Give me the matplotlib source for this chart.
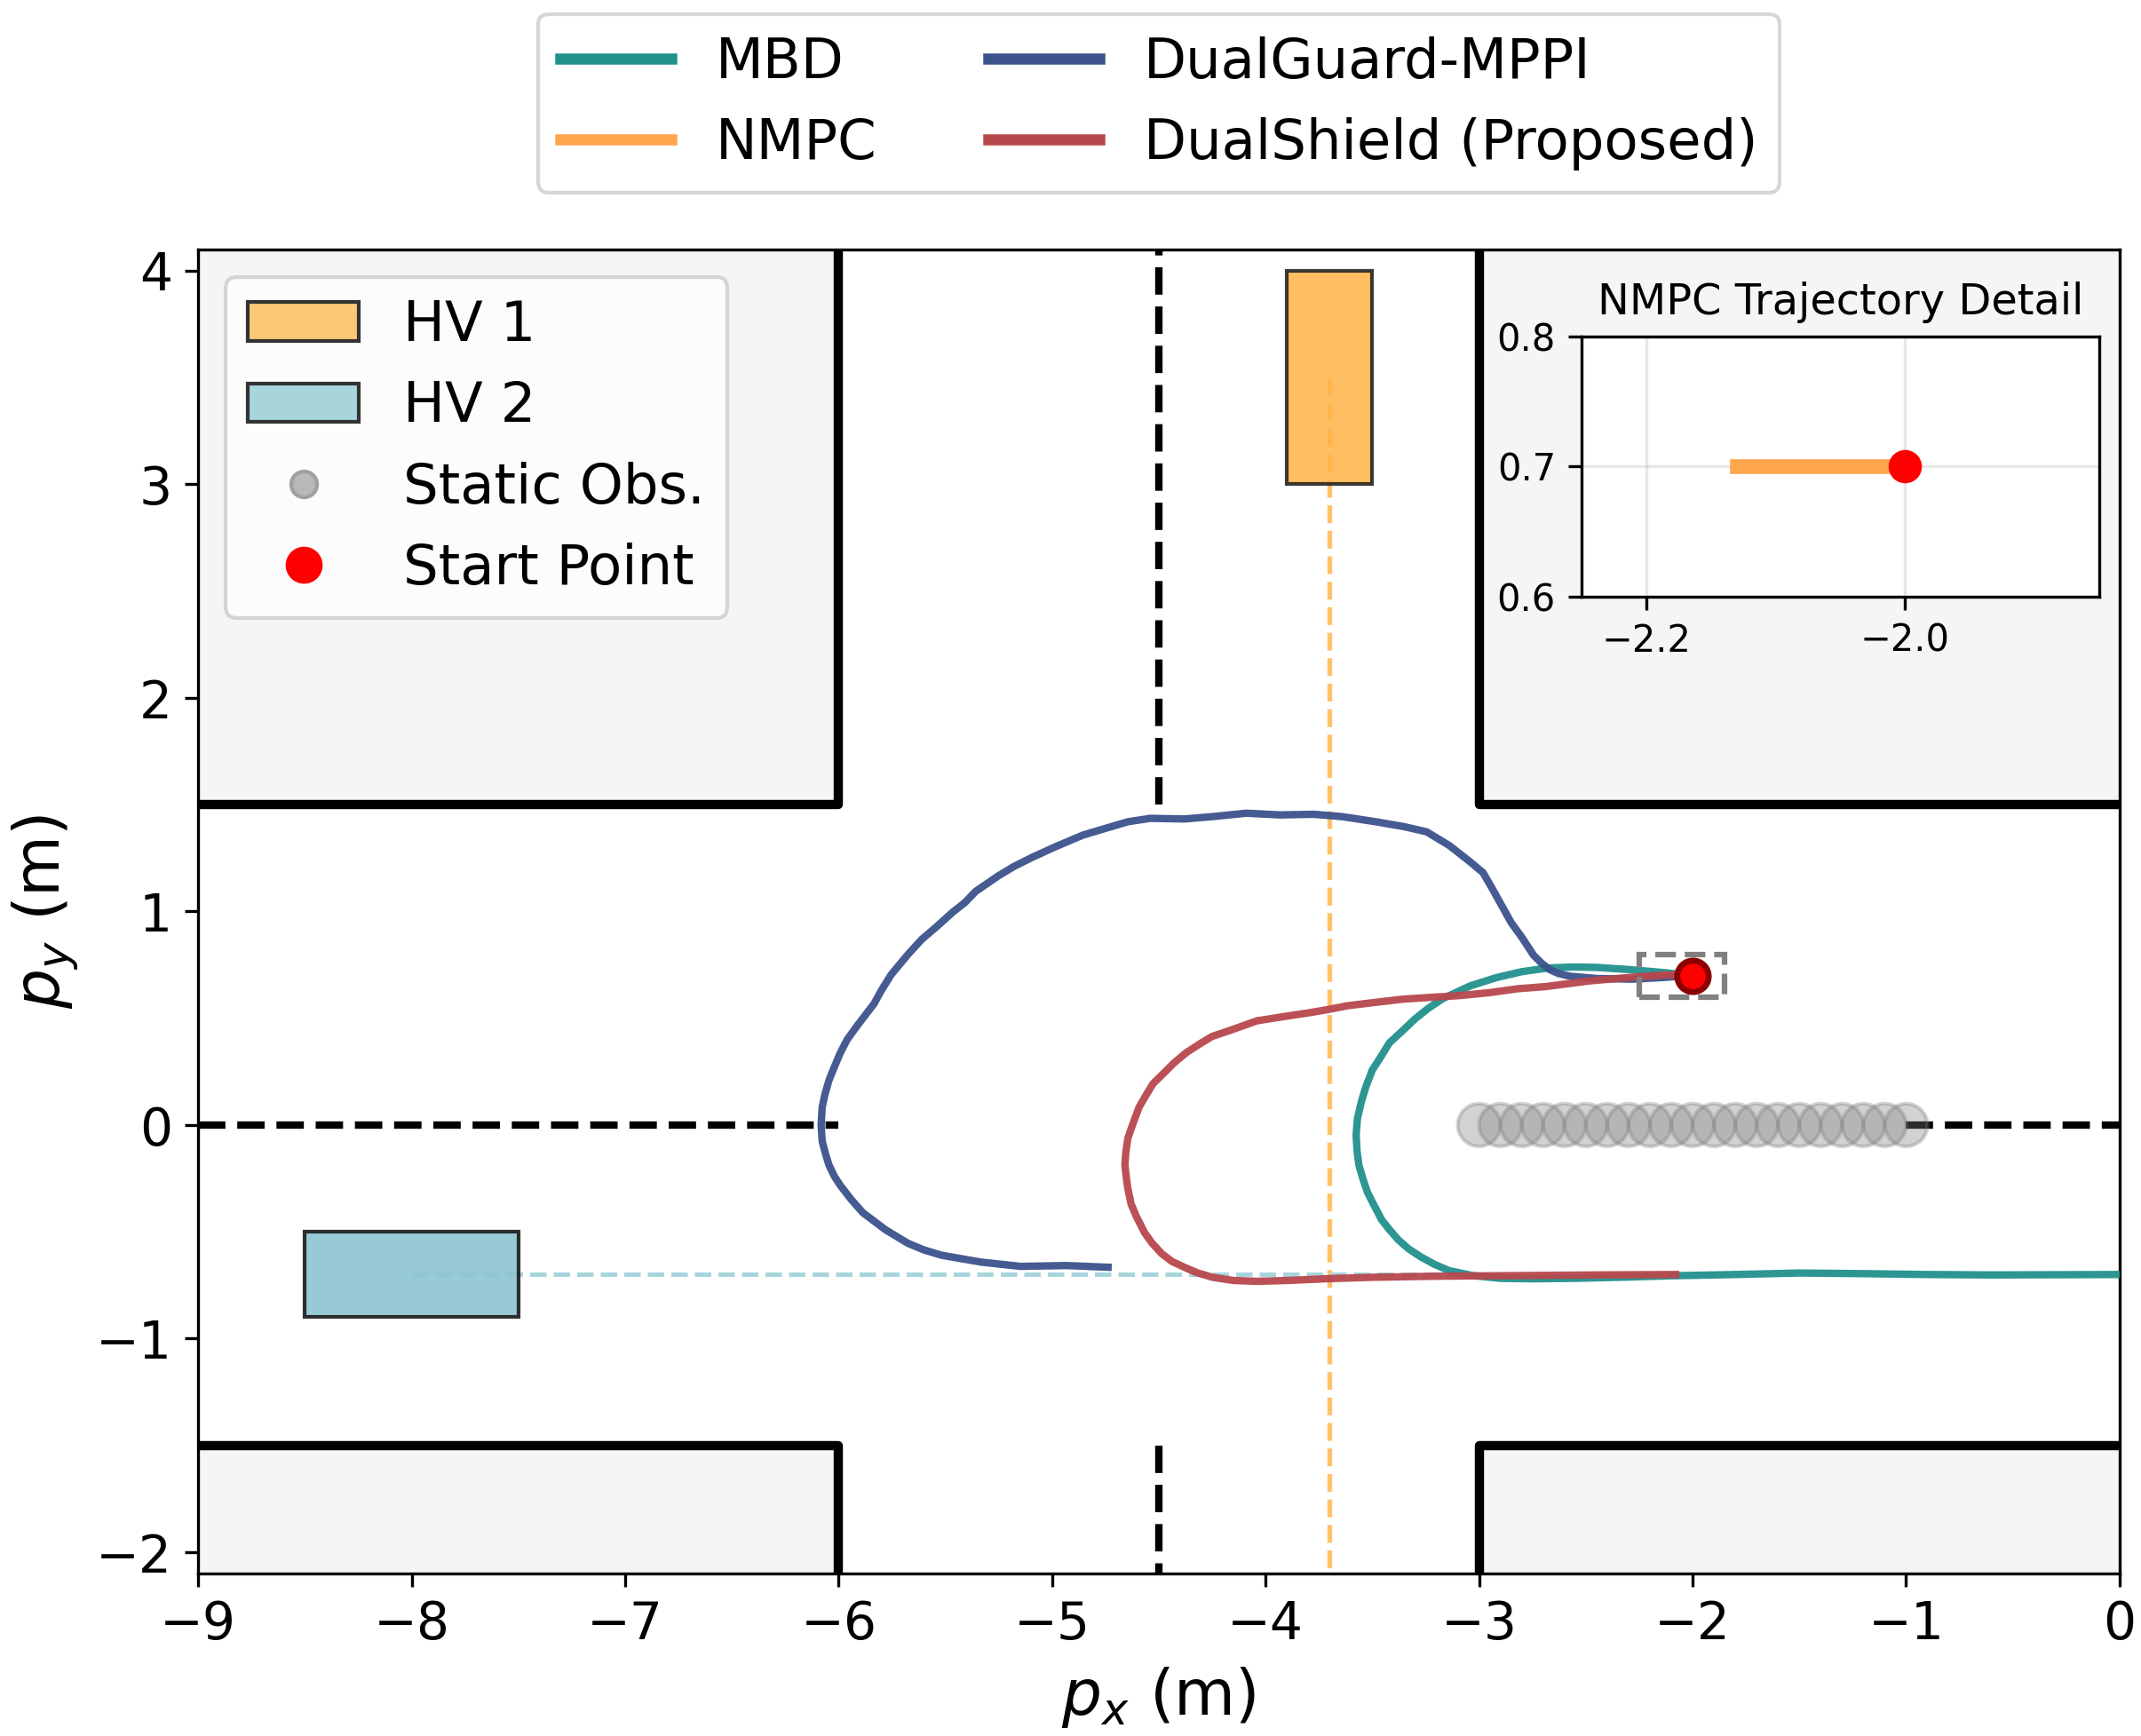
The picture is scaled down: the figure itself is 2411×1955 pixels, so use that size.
import matplotlib
matplotlib.use("Agg")
import matplotlib.pyplot as plt
from matplotlib.patches import Rectangle, Circle, Patch
from matplotlib.lines import Line2D
import numpy as np

# trajectories (x, y in metres)
mbd_x = [-2.00, -2.15, -2.30, -2.45, -2.56, -2.68, -2.80, -2.92, -3.04, -3.17, -3.24, -3.30,
         -3.36, -3.42, -3.46, -3.50, -3.53, -3.55, -3.57, -3.576, -3.572, -3.563, -3.545,
         -3.523, -3.49, -3.457, -3.42, -3.378, -3.33, -3.272, -3.21, -3.14, -3.03, -2.90,
         -2.75, -2.56, -2.30, -2.10, -1.80, -1.50, -1.20, -0.90, -0.60, -0.30, 0.0]
mbd_y = [0.70, 0.715, 0.728, 0.738, 0.740, 0.735, 0.718, 0.690, 0.652, 0.592, 0.545, 0.497,
         0.440, 0.385, 0.32, 0.258, 0.18, 0.115, 0.03, -0.045, -0.12, -0.188, -0.25,
         -0.315, -0.38, -0.443, -0.49, -0.538, -0.58, -0.618, -0.652, -0.682, -0.705, -0.718,
         -0.720, -0.718, -0.712, -0.706, -0.700, -0.693, -0.696, -0.700, -0.702, -0.701, -0.700]

nmpc_x = [-2.00, -2.13]
nmpc_y = [0.70, 0.70]

guard_x = [-2.00, -2.15, -2.28, -2.45, -2.577, -2.63, -2.67, -2.71, -2.745, -2.80, -2.85, -2.90,
           -2.94, -2.982, -3.048, -3.14, -3.246, -3.351, -3.484, -3.642, -3.774, -3.932, -4.091,
           -4.249, -4.381, -4.54, -4.645, -4.777, -4.857, -4.989, -5.094, -5.18, -5.253, -5.358,
           -5.41, -5.464, -5.543, -5.61, -5.675, -5.754, -5.80, -5.834, -5.913, -5.96, -5.992,
           -6.025, -6.045, -6.065, -6.077, -6.082, -6.077, -6.06, -6.045, -6.02, -5.992, -5.94,
           -5.886, -5.781, -5.675, -5.60, -5.517, -5.332, -5.147, -4.936, -4.738]
guard_y = [0.70, 0.690, 0.683, 0.686, 0.697, 0.710, 0.728, 0.760, 0.795, 0.879, 0.948, 1.038,
           1.11, 1.182, 1.237, 1.309, 1.373, 1.397, 1.420, 1.444, 1.455, 1.452, 1.460,
           1.444, 1.433, 1.436, 1.420, 1.381, 1.357, 1.301, 1.253, 1.21, 1.166, 1.094,
           1.04, 0.998, 0.927, 0.87, 0.799, 0.704, 0.63, 0.568, 0.465, 0.40, 0.338,
           0.26, 0.210, 0.14, 0.083, 0.0, -0.076, -0.14, -0.188, -0.24, -0.283, -0.35,
           -0.411, -0.490, -0.554, -0.585, -0.610, -0.642, -0.662, -0.658, -0.666]

shield_x = [-2.00, -2.12, -2.25, -2.48, -2.69, -2.82, -2.95, -3.09, -3.22, -3.35, -3.48, -3.62,
            -3.70, -3.80, -3.90, -4.04, -4.17, -4.25, -4.30, -4.37, -4.43, -4.48, -4.527, -4.56,
            -4.593, -4.62, -4.645, -4.655, -4.659, -4.652, -4.645, -4.63, -4.606, -4.566, -4.53,
            -4.487, -4.44, -4.381, -4.32, -4.249, -4.15, -4.04, -3.90, -3.72, -3.50, -3.20,
            -2.82, -2.45, -2.08]
shield_y = [0.70, 0.703, 0.695, 0.675, 0.648, 0.638, 0.620, 0.606, 0.598, 0.590, 0.575, 0.558,
            0.542, 0.525, 0.510, 0.488, 0.442, 0.415, 0.385, 0.34, 0.290, 0.24, 0.194, 0.14,
            0.083, 0.01, -0.061, -0.13, -0.188, -0.25, -0.299, -0.37, -0.427, -0.506, -0.555,
            -0.602, -0.638, -0.666, -0.692, -0.713, -0.728, -0.732, -0.728, -0.720, -0.713, -0.708,
            -0.705, -0.702, -0.700]

start = (-2.0, 0.7)
obs_x = [-3.0, -2.9, -2.8, -2.7, -2.6, -2.5, -2.4, -2.3, -2.2, -2.1, -2.0,
         -1.9, -1.8, -1.7, -1.6, -1.5, -1.4, -1.3, -1.2, -1.1, -1.0]
obs_r = 0.1
hv1 = (-3.9, 3.0, 0.4, 1.0)   # x, y, w, h
hv2 = (-8.5, -0.9, 1.0, 0.4)

c_mbd = '#21918c'
c_nmpc = '#ffa64d'
c_guard = '#3b528b'
c_shield = '#b8474d'

fig = plt.figure(figsize=(8.04, 6.517), dpi=300)
ax = fig.add_axes([0.0925, 0.0936, 0.8971, 0.7627])

# road walls / off-road areas
wall_col = '#f5f5f5'
for (x0, y0, w, h) in [(-9, 1.5, 3, 3), (-3, 1.5, 3, 3), (-9, -3, 3, 1.5), (-3, -3, 3, 1.5)]:
    ax.add_patch(Rectangle((x0, y0), w, h, facecolor=wall_col, edgecolor='none', zorder=0))
ax.plot([-9, -6, -6], [1.5, 1.5, 4.5], color='k', lw=2.5, zorder=2)
ax.plot([-3, -3, 0], [4.5, 1.5, 1.5], color='k', lw=2.5, zorder=2)
ax.plot([-9, -6, -6], [-1.5, -1.5, -2.5], color='k', lw=2.5, zorder=2)
ax.plot([-3, -3, 0], [-2.5, -1.5, -1.5], color='k', lw=2.5, zorder=2)

# lane centre lines
ax.plot([-9, -6], [0, 0], 'k--', lw=2, zorder=1)
ax.plot([-1.0, 0], [0, 0], 'k--', lw=2, zorder=1)
ax.plot([-4.5, -4.5], [1.5, 4.5], 'k--', lw=2, zorder=1)
ax.plot([-4.5, -4.5], [-1.5, -2.5], 'k--', lw=2, zorder=1)

# human-driven vehicles and their paths
ax.plot([hv1[0] + hv1[2] / 2] * 2, [hv1[1] + hv1[3] / 2, -2.5], '--', color='#ffb347',
        lw=1.3, alpha=0.8, zorder=1)
ax.plot([hv2[0] + hv2[2] / 2, -3.0], [hv2[1] + hv2[3] / 2] * 2, '--', color='#a8d5dd',
        lw=1.2, zorder=1)
ax.add_patch(Rectangle(hv1[:2], hv1[2], hv1[3], facecolor='#ffb347', alpha=0.85,
                       edgecolor='#1a1a1a', lw=1.0, zorder=3))
ax.add_patch(Rectangle(hv2[:2], hv2[2], hv2[3], facecolor='#8cc5d0', alpha=0.9,
                       edgecolor='#1a1a1a', lw=1.0, zorder=3))

# static obstacles
for ox in obs_x:
    ax.add_patch(Circle((ox, 0), obs_r, facecolor='gray', edgecolor='gray', alpha=0.35,
                        lw=1, zorder=2))

# trajectories
ax.plot(mbd_x, mbd_y, color=c_mbd, lw=2, alpha=0.95, zorder=4)
ax.plot(nmpc_x, nmpc_y, color=c_nmpc, lw=2, zorder=4)
ax.plot(guard_x, guard_y, color=c_guard, lw=2, alpha=0.95, zorder=4)
ax.plot(shield_x, shield_y, color=c_shield, lw=2, alpha=0.95, zorder=5)

ax.plot(*start, 'o', color='red', mec='darkred', ms=8.5, mew=1.6, zorder=7)
ax.add_patch(Rectangle((-2.25, 0.6), 0.4, 0.2, facecolor='none', edgecolor='gray',
                       ls='--', lw=1.5, zorder=6))

ax.set_xlim(-9, 0)
ax.set_ylim(-2.1, 4.1)
ax.set_xticks(np.arange(-9, 1, 1))
ax.set_yticks(np.arange(-2, 5, 1))
ax.tick_params(labelsize=14)
ax.set_xlabel(r'$p_x$ (m)', fontsize=17)
ax.set_ylabel(r'$p_y$ (m)', fontsize=17)

# legends
obj_handles = [Patch(facecolor='#fdc878', edgecolor='#333333', lw=1.0, label='HV 1'),
               Patch(facecolor='#a8d4dc', edgecolor='#333333', lw=1.0, label='HV 2'),
               Line2D([], [], ls='none', marker='o', color='#b8b8b8', mec='#a0a0a0', ms=7,
                      label='Static Obs.'),
               Line2D([], [], ls='none', marker='o', color='red', ms=9, label='Start Point')]
leg1 = ax.legend(handles=obj_handles, loc='upper left', fontsize=15)
ax.add_artist(leg1)

traj_handles = [Line2D([], [], color=c_mbd, lw=3, label='MBD'),
                Line2D([], [], color=c_nmpc, lw=3, label='NMPC'),
                Line2D([], [], color=c_guard, lw=3, label='DualGuard-MPPI'),
                Line2D([], [], color=c_shield, lw=3, label='DualShield (Proposed)')]
ax.legend(handles=traj_handles, loc='lower center', bbox_to_anchor=(0.5, 1.022), ncol=2,
          fontsize=15)

# zoomed detail of the NMPC trajectory
axin = ax.inset_axes([0.72, 0.738, 0.2694, 0.196])
axin.set_facecolor('white')
axin.plot(nmpc_x, nmpc_y, color=c_nmpc, lw=4, zorder=3)
axin.plot(*start, 'o', color='red', ms=8, zorder=4)
axin.set_xlim(-2.25, -1.85)
axin.set_ylim(0.6, 0.8)
axin.set_xticks([-2.2, -2.0])
axin.set_yticks([0.6, 0.7, 0.8])
axin.tick_params(labelsize=10)
axin.grid(True, alpha=0.3)
axin.set_title('NMPC Trajectory Detail', fontsize=11.5)

plt.savefig('out.png', dpi=300)
